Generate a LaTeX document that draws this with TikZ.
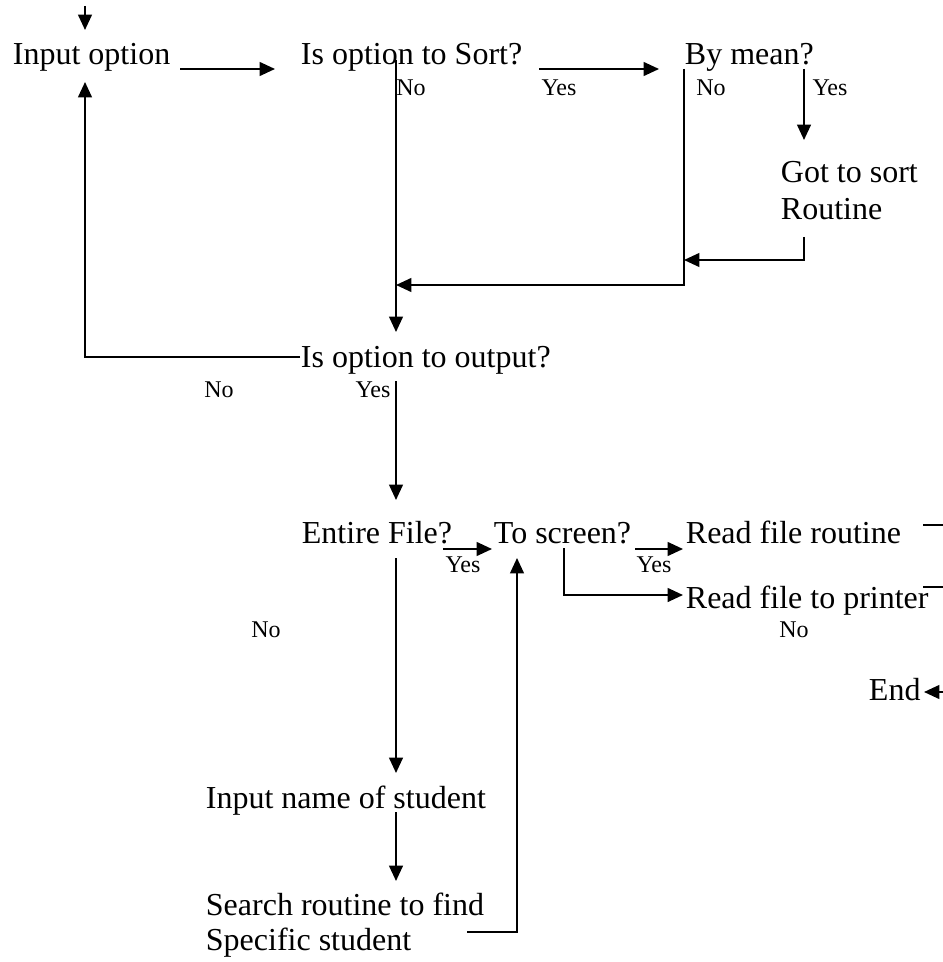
\documentclass[tikz,border=0pt]{standalone}
\usepackage{fontspec}
\setmainfont{Liberation Serif}
\usetikzlibrary{arrows.meta}

\begin{document}
\begin{tikzpicture}[x=0.375pt,y=-0.375pt,line width=0.7pt,
		>={Triangle[length=5.8pt,width=5.2pt]},
		txt/.style={anchor=base west,inner sep=0pt,font=\fontsize{12}{14}\selectfont},
		lbl/.style={inner sep=0pt,font=\fontsize{9}{11}\selectfont}]
		\useasboundingbox (0,0) rectangle (943,962);
		% steps of the menu
		\node[txt] (inopt) at (12,65) {Input option};
		\node[txt] (sortq) at (300,65) {Is option to Sort?};
		\node[txt] (meanq) at (684,65) {By mean?};
		\node[txt] (gosort) at (780,183) {Got to sort};
		\node[txt] (gosortb) at (780,220) {Routine};
		\node[txt] (outq) at (300,367) {Is option to output?};
		\node[txt] (fileq) at (301,543) {Entire File?};
		\node[txt] (scrq) at (493,543) {To screen?};
		\node[txt] (rdrout) at (685,543) {Read file routine};
		\node[txt] (rdprn) at (685,608) {Read file to printer};
		\node[txt] (endn) at (868,700) {End};
		\node[txt] (inname) at (205,808) {Input name of student};
		\node[txt] (search) at (205,915) {Search routine to find};
		\node[txt] (searchb) at (205,950) {Specific student};
		% yes / no
		\node[lbl] (sortno) at (411,88) {No};
		\node[lbl] (sortyes) at (559,88) {Yes};
		\node[lbl] (meanno) at (711,88) {No};
		\node[lbl] (meanyes) at (830,88) {Yes};
		\node[lbl] (outno) at (219,390) {No};
		\node[lbl] (outyes) at (373,390) {Yes};
		\node[lbl] (fileyes) at (463,565) {Yes};
		\node[lbl] (scryes) at (654,565) {Yes};
		\node[lbl] (fileno) at (266,630) {No};
		\node[lbl] (scrno) at (794,630) {No};
		% line ends
		\coordinate (start) at (85,6);
		\coordinate (inopt-top) at (85,30);
		\coordinate (inopt-bot) at (85,82);
		\coordinate (inopt-out) at (180,69);
		\coordinate (sortq-in) at (275,69);
		\coordinate (sortq-no) at (396,60);
		\coordinate (sortq-yes) at (539,69);
		\coordinate (meanq-in) at (659,69);
		\coordinate (meanq-no) at (684,69);
		\coordinate (meanq-yes) at (804,69);
		\coordinate (gosort-in) at (804,140);
		\coordinate (gosort-out) at (804,237);
		\coordinate (join1) at (684,260);
		\coordinate (join2) at (396,285);
		\coordinate (outq-in) at (396,332);
		\coordinate (outq-no) at (300,357);
		\coordinate (outq-yes) at (396,381);
		\coordinate (fileq-in) at (396,500);
		\coordinate (fileq-yes) at (443,549);
		\coordinate (scrq-in) at (492,549);
		\coordinate (fileq-no) at (396,558);
		\coordinate (inname-in) at (396,773);
		\coordinate (inname-out) at (396,812);
		\coordinate (search-in) at (396,881);
		\coordinate (search-out) at (467,932);
		\coordinate (scrq-bot) at (517,558);
		\coordinate (scrq-yes) at (635,549);
		\coordinate (rdrout-in) at (683,549);
		\coordinate (scrq-no) at (564,548);
		\coordinate (rdprn-in) at (683,595);
		\coordinate (rdrout-out) at (923,525);
		\coordinate (rdrout-edge) at (943,525);
		\coordinate (rdprn-out) at (923,587);
		\coordinate (rdprn-edge) at (943,587);
		\coordinate (endn-edge) at (943,692);
		\coordinate (endn-in) at (924,692);
		% arrows
		\draw[->] (start) -- (inopt-top);
		\draw[->] (inopt-out) -- (sortq-in);
		\draw[->] (sortq-no) -- (outq-in);
		\draw[->] (sortq-yes) -- (meanq-in);
		\draw[->] (meanq-no) |- (join2);
		\draw[->] (meanq-yes) -- (gosort-in);
		\draw[->] (gosort-out) |- (join1);
		\draw[->] (outq-no) -| (inopt-bot);
		\draw[->] (outq-yes) -- (fileq-in);
		\draw[->] (fileq-yes) -- (scrq-in);
		\draw[->] (fileq-no) -- (inname-in);
		\draw[->] (inname-out) -- (search-in);
		\draw[->] (search-out) -| (scrq-bot);
		\draw[->] (scrq-yes) -- (rdrout-in);
		\draw[->] (scrq-no) |- (rdprn-in);
		\draw (rdrout-out) -- (rdrout-edge);
		\draw (rdprn-out) -- (rdprn-edge);
		\draw[->] (endn-edge) -- (endn-in);
\end{tikzpicture}
\end{document}
